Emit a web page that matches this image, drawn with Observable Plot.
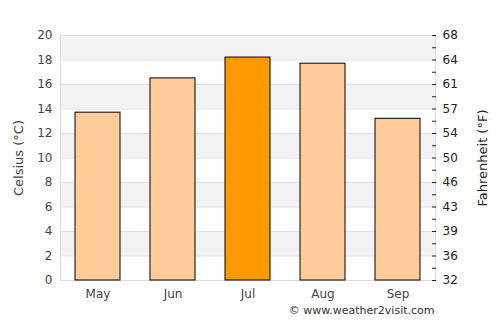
<!DOCTYPE html>
<html>
<head>
<meta charset="utf-8">
<script src="https://cdn.jsdelivr.net/npm/d3@7"></script>
<script src="https://cdn.jsdelivr.net/npm/@observablehq/plot@0.6"></script>
<style>
  html, body { margin: 0; padding: 0; background: #fff; }
</style>
</head>
<body>
<div id="chart"></div>
<script>
const months = ["May", "Jun", "Jul", "Aug", "Sep"];
const celsius = [13.7, 16.5, 18.2, 17.7, 13.2];
const highlightMonth = "Jul";
const celsiusTicks = [0, 2, 4, 6, 8, 10, 12, 14, 16, 18, 20];
const fahrenheitLabels = ["32", "36", "39", "43", "46", "50", "54", "57", "61", "64", "68"];
const minorTicks = [1, 3, 5, 7, 9, 11, 13, 15, 17, 19];
const caption = "© www.weather2visit.com";

const data = months.map((m, i) => ({month: m, value: celsius[i]}));
const bands = celsiusTicks.filter((t, i) => i % 2 === 1).map(t => ({y1: t, y2: t + 2}));
const fLabel = new Map(celsiusTicks.map((t, i) => [t, fahrenheitLabels[i]]));
const textColor = "#444";

const chart = Plot.plot({
  width: 500,
  height: 325,
  marginLeft: 60,
  marginRight: 65,
  marginTop: 35,
  marginBottom: 45,
  style: {fontFamily: "DejaVu Sans, sans-serif", fontSize: "12px", background: "#fff", color: textColor},
  x: {domain: months, paddingInner: 0.4, paddingOuter: 0.2},
  y: {domain: [0, 20]},
  marks: [
    Plot.rect(bands, {y1: "y1", y2: "y2", fill: "#f2f2f2"}),
    Plot.ruleY(celsiusTicks, {stroke: "#e0e0e0"}),
    Plot.frame({stroke: "#dcdcdc"}),
    Plot.barY(data, {
      x: "month", y: "value",
      fill: d => d.month === highlightMonth ? "#ff9900" : "#ffcc99",
      stroke: "#000", strokeWidth: 1
    }),
    Plot.axisX({tickSize: 0, tickPadding: 9, label: null, fill: textColor}),
    Plot.axisY({anchor: "left", ticks: celsiusTicks, tickSize: 0, tickPadding: 8, label: null, fill: textColor}),
    Plot.axisY({anchor: "right", ticks: celsiusTicks, tickSize: 0, tickPadding: 7, label: null,
      tickFormat: d => fLabel.get(d), fill: "#222"}),
    Plot.axisY({anchor: "right", ticks: celsiusTicks.concat(minorTicks), tickSize: 4, dx: -4, fill: "none", label: null, stroke: "#222"}),
    Plot.text(["Celsius (°C)"], {frameAnchor: "left", dx: -42, rotate: -90, textAnchor: "middle", fontSize: 13, fill: textColor}),
    Plot.text(["Fahrenheit (°F)"], {frameAnchor: "right", dx: 47, rotate: -90, textAnchor: "middle", fontSize: 13, fill: "#222"}),
    Plot.text([caption], {frameAnchor: "bottom-right", dx: -1, dy: 33, textAnchor: "end", fontSize: 11, fill: "#333"})
  ]
});
document.getElementById("chart").appendChild(chart);
</script>
</body>
</html>
